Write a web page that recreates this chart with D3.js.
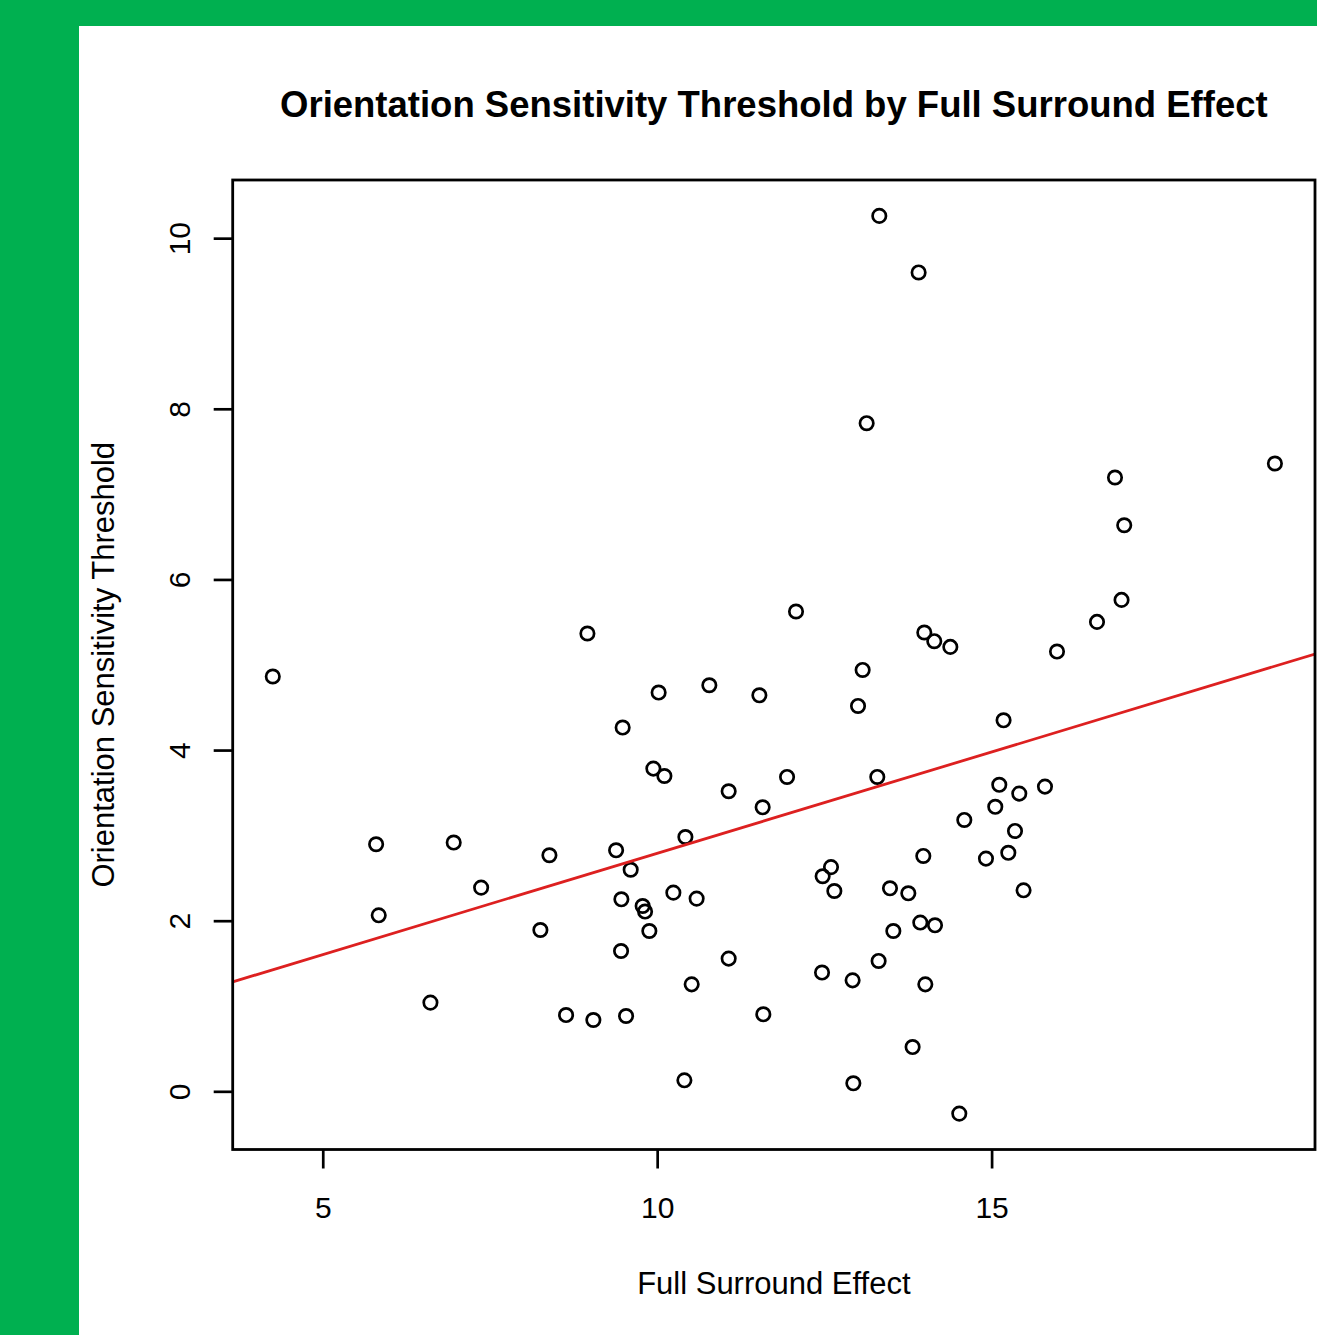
<!DOCTYPE html>
<html>
<head>
<meta charset="utf-8">
<script src="https://cdn.jsdelivr.net/npm/d3@7"></script>
<style>
  html, body { margin: 0; padding: 0; background: #00B050; }
  svg { display: block; }
  text { font-family: "Liberation Sans", Arial, Helvetica, sans-serif; fill: #000; }
</style>
</head>
<body>
<svg id="chart" width="1317" height="1335"></svg>
<script>
// ---- data ----
const fullSurround = [
  4.253, 5.798, 5.837, 6.610, 6.958, 7.368, 8.254, 8.389, 8.638, 8.957,
  9.046, 9.386, 9.465, 9.460, 9.484, 9.535, 9.604, 9.783, 9.819, 9.883,
  9.943, 10.022, 10.108, 10.242, 10.407, 10.422, 10.516, 10.590, 10.780, 11.069,
  11.069, 11.528, 11.577, 11.587, 11.942, 12.076, 12.465, 12.474, 12.599, 12.649,
  12.922, 12.933, 13.003, 13.072, 13.132, 13.291, 13.321, 13.311, 13.481, 13.531,
  13.755, 13.819, 13.909, 13.934, 13.979, 14.009, 13.994, 14.143, 14.383, 14.154,
  14.517, 14.592, 14.916, 15.055, 15.115, 15.179, 15.250, 15.350, 15.414, 15.478,
  15.798, 15.978, 16.576, 16.845, 16.943, 16.983, 19.236
];
const orientationThreshold = [
  4.862, 2.896, 2.063, 1.040, 2.916, 2.388, 1.891, 2.767, 0.894, 5.366,
  0.836, 2.825, 2.251, 1.645, 4.264, 0.883, 2.597, 2.172, 2.107, 1.879,
  3.783, 4.674, 3.696, 2.329, 0.129, 2.981, 1.254, 2.259, 4.760, 3.517,
  1.556, 4.642, 3.329, 0.903, 3.685, 5.624, 1.392, 2.521, 2.628, 2.348,
  1.301, 0.094, 4.517, 4.939, 7.831, 3.685, 10.261, 1.528, 2.380, 1.879,
  2.321, 0.519, 9.598, 1.978, 2.759, 1.254, 5.378, 5.276, 5.209, 1.946,
  -0.261, 3.181, 2.728, 3.335, 3.593, 4.349, 2.796, 3.052, 3.490, 2.356,
  3.572, 5.155, 5.502, 7.195, 5.760, 6.635, 7.359
];
const xTicks = [5, 10, 15];
const yTicks = [0, 2, 4, 6, 8, 10];
const fitIntercept = 0.415;
const fitSlope = 0.2375;
const titleText = "Orientation Sensitivity Threshold by Full Surround Effect";
const xLabel = "Full Surround Effect";
const yLabel = "Orientation Sensitivity Threshold";

// ---- layout ----
const W = 1317, H = 1335;
const plot = { left: 232.7, right: 1315, top: 180, bottom: 1149.5 };

const svg = d3.select("#chart");

// white panel
svg.append("rect").attr("x", 79).attr("y", 26).attr("width", W - 79).attr("height", H - 26).attr("fill", "#fff");

// R-style 4% expansion
function expand(ext) { const r = ext[1] - ext[0]; return [ext[0] - 0.04 * r, ext[1] + 0.04 * r]; }
const x = d3.scaleLinear().domain(expand(d3.extent(fullSurround))).range([plot.left, plot.right]);
const y = d3.scaleLinear().domain(expand(d3.extent(orientationThreshold))).range([plot.bottom, plot.top]);

const data = fullSurround.map((v, i) => ({ x: v, y: orientationThreshold[i] }));

// clip
svg.append("clipPath").attr("id", "clip").append("rect")
  .attr("x", plot.left).attr("y", plot.top)
  .attr("width", plot.right - plot.left).attr("height", plot.bottom - plot.top);

// points
svg.append("g").selectAll("circle").data(data).join("circle")
  .attr("cx", d => x(d.x)).attr("cy", d => y(d.y)).attr("r", 6.7)
  .attr("fill", "none").attr("stroke", "#000").attr("stroke-width", 2.7);

// regression line
const xd = x.domain();
svg.append("line").attr("clip-path", "url(#clip)")
  .attr("x1", x(xd[0])).attr("y1", y(fitIntercept + fitSlope * xd[0]))
  .attr("x2", x(xd[1])).attr("y2", y(fitIntercept + fitSlope * xd[1]))
  .attr("stroke", "#dd2020").attr("stroke-width", 2.8);

// box
svg.append("rect").attr("x", plot.left).attr("y", plot.top)
  .attr("width", plot.right - plot.left).attr("height", plot.bottom - plot.top)
  .attr("fill", "none").attr("stroke", "#000").attr("stroke-width", 2.8);

// x axis
const gx = svg.append("g").attr("transform", `translate(0,${plot.bottom})`)
  .call(d3.axisBottom(x).tickValues(xTicks).tickFormat(d3.format("d")).tickSize(19).tickPadding(28));
gx.select(".domain").remove();
gx.selectAll("line").attr("stroke", "#000").attr("stroke-width", 2.7);
gx.selectAll("text").attr("font-size", 30).attr("font-family", "Liberation Sans, Arial, sans-serif");

// y axis
const gy = svg.append("g").attr("transform", `translate(${plot.left},0)`)
  .call(d3.axisLeft(y).tickValues(yTicks).tickFormat(d3.format("d")).tickSize(19));
gy.select(".domain").remove();
gy.selectAll("line").attr("stroke", "#000").attr("stroke-width", 2.7);
gy.selectAll("text")
  .attr("x", 0).attr("y", -43).attr("dy", 0)
  .attr("transform", "rotate(-90)")
  .attr("text-anchor", "middle")
  .attr("font-size", 30).attr("font-family", "Liberation Sans, Arial, sans-serif");

const cx = (plot.left + plot.right) / 2;
const cy = (plot.top + plot.bottom) / 2;

// title
svg.append("text").attr("x", cx).attr("y", 117).attr("text-anchor", "middle")
  .attr("font-size", 36.5).attr("font-weight", "bold").text(titleText);

// x label
svg.append("text").attr("x", cx).attr("y", 1294).attr("text-anchor", "middle")
  .attr("font-size", 31).text(xLabel);

// y label
svg.append("text").attr("transform", `translate(114,${cy}) rotate(-90)`).attr("text-anchor", "middle")
  .attr("font-size", 31).text(yLabel);
</script>
</body>
</html>
